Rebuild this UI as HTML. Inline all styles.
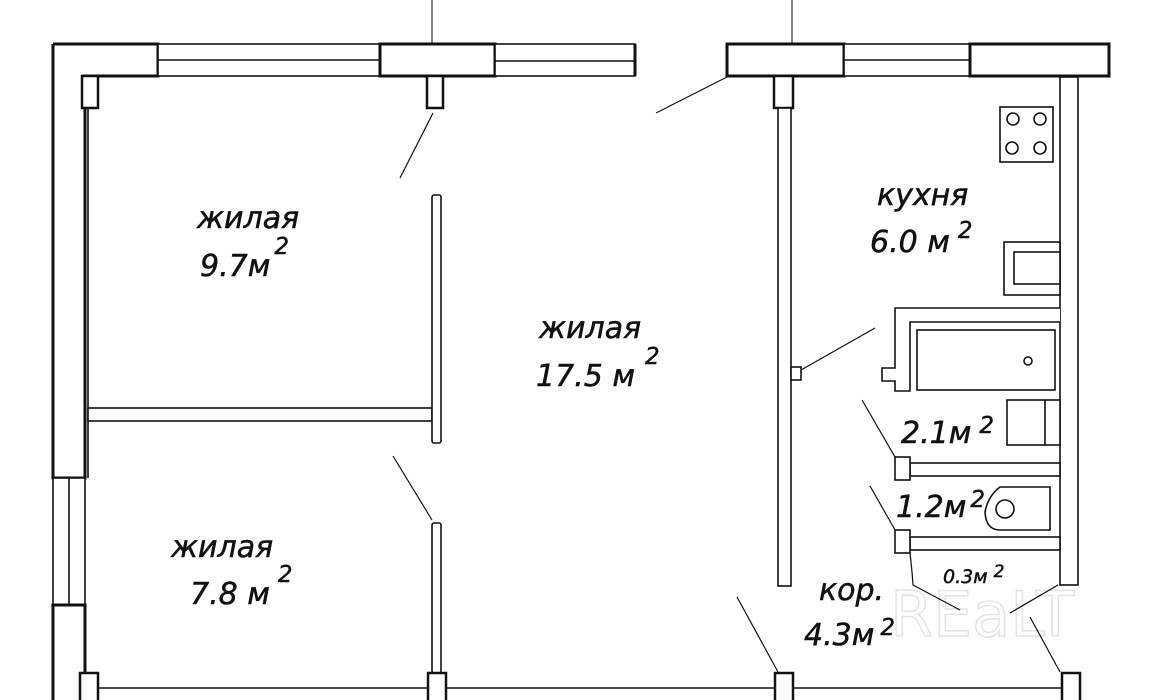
<!DOCTYPE html>
<html><head><meta charset="utf-8"><style>
html,body{margin:0;padding:0;background:#fff;}
svg{display:block}
text{font-family:"DejaVu Sans","Liberation Sans",sans-serif;font-style:italic;fill:#111;}
</style></head><body>
<svg width="1160" height="700" viewBox="0 0 1160 700" xmlns="http://www.w3.org/2000/svg">
<text x="890" y="636" font-size="62" style="font-style:normal;fill:none;stroke:#e4e4e4;stroke-width:1.5">REaLT</text>
<g fill="#fff" stroke="#111" stroke-width="1.6">
<path d="M53 44 V478 H85 V108" fill="none" stroke-width="3"/>
<path d="M53 44 H158 V76 H82" fill="none" stroke-width="3"/>
<rect x="82" y="76" width="16" height="32" stroke-width="2.5"/>
<line x1="88" y1="108" x2="88" y2="478"/>
<rect x="158" y="44" width="222" height="32"/>
<line x1="158" y1="60" x2="380" y2="60"/>
<rect x="380" y="44" width="115" height="32" stroke-width="3"/>
<rect x="495" y="44" width="140" height="32"/>
<line x1="495" y1="61" x2="635" y2="61"/>
<line x1="635" y1="44" x2="635" y2="76" stroke-width="3"/>
<rect x="427" y="76" width="16" height="32" stroke-width="2.5"/>
<line x1="432" y1="0" x2="432" y2="44" stroke-width="1"/>
<line x1="792" y1="0" x2="792" y2="44" stroke-width="1"/>
<rect x="53" y="478" width="32" height="127"/>
<line x1="69" y1="478" x2="69" y2="605"/>
<path d="M53 700 V605 H85 V700" stroke-width="3"/>
<rect x="88" y="408" width="344" height="13"/>
<rect x="432" y="195" width="9" height="248" rx="2"/>
<rect x="432" y="523" width="9" height="150" rx="2"/>
<line x1="98" y1="688" x2="428" y2="688"/>
<line x1="446" y1="688" x2="775" y2="688"/>
<line x1="793" y1="688" x2="1062" y2="688"/>
<rect x="80" y="673" width="18" height="30" stroke-width="2.5"/>
<rect x="428" y="673" width="18" height="30" stroke-width="2.5"/>
<rect x="775" y="673" width="18" height="30" stroke-width="2.5"/>
<rect x="1062" y="673" width="18" height="30" stroke-width="2.5"/>
<rect x="727" y="44" width="117" height="32" stroke-width="3"/>
<rect x="844" y="44" width="126" height="32"/>
<line x1="844" y1="60" x2="970" y2="60"/>
<rect x="970" y="44" width="139" height="32" stroke-width="3"/>
<rect x="774" y="76" width="19" height="32" stroke-width="2.5"/>
<rect x="778" y="108" width="13" height="478"/>
<rect x="1060" y="77" width="18" height="508"/>
<rect x="1000" y="107" width="53" height="55"/>
<circle cx="1013" cy="119" r="6"/><circle cx="1040" cy="119" r="6"/>
<circle cx="1012" cy="148" r="6"/><circle cx="1040" cy="148" r="6"/>
<rect x="1004" y="242" width="56" height="53"/>
<rect x="1014" y="252" width="46" height="32"/>
<path d="M1060 308 H895 V368 H882 V381 H895 V391 H910 V322 H1060"/>
<rect x="917" y="330" width="138" height="60"/>
<circle cx="1028" cy="361" r="4"/>
<rect x="791" y="367" width="10" height="13"/>
<rect x="1007" y="400" width="53" height="45"/>
<line x1="1045" y1="400" x2="1045" y2="445"/>
<rect x="910" y="463" width="150" height="13"/>
<rect x="895" y="457" width="15" height="23"/>
<path d="M1000 487 H1050 V530 H1000 Q986 530 985 512 Q988 496 1000 487 Z"/>
<circle cx="1005" cy="509" r="9"/>
<rect x="910" y="537" width="150" height="13"/>
<rect x="895" y="530" width="15" height="23"/>
</g>
<g stroke="#111" stroke-width="1.2" fill="none">
<line x1="400" y1="178" x2="433" y2="113"/>
<line x1="393" y1="456" x2="432" y2="520"/>
<line x1="656" y1="113" x2="727" y2="77"/>
<line x1="801" y1="370" x2="875" y2="328"/>
<line x1="862" y1="400" x2="895" y2="457"/>
<line x1="870" y1="486" x2="895" y2="530"/>
<path d="M910 553 Q912 570 913 585 L960 610"/>
<line x1="1058" y1="585" x2="1010" y2="613"/>
<line x1="737" y1="597" x2="778" y2="672"/>
<line x1="1030" y1="617" x2="1060" y2="672"/>
</g>
<g font-size="30" stroke="#111" stroke-width="0.5">
<text x="197" y="228">жилая</text>
<text x="200" y="276">9.7м<tspan font-size="23" dx="4" dy="-22">2</tspan></text>
<text x="539" y="338">жилая</text>
<text x="536" y="386">17.5 м<tspan font-size="23" dx="10" dy="-22">2</tspan></text>
<text x="877" y="205">кухня</text>
<text x="870" y="252">6.0 м<tspan font-size="23" dx="8" dy="-14">2</tspan></text>
<text x="901" y="443">2.1м<tspan font-size="23" dx="8" dy="-10">2</tspan></text>
<text x="896" y="517">1.2м<tspan font-size="23" dx="4" dy="-10">2</tspan></text>
<text x="943" y="583" font-size="19">0.3м<tspan font-size="17" dx="6" dy="-6">2</tspan></text>
<text x="819" y="600">кор.</text>
<text x="804" y="645">4.3м<tspan font-size="23" dx="6" dy="-10">2</tspan></text>
<text x="171" y="557">жилая</text>
<text x="190" y="604">7.8 м<tspan font-size="23" dx="8" dy="-22">2</tspan></text>
</g>
</svg>
</body></html>
